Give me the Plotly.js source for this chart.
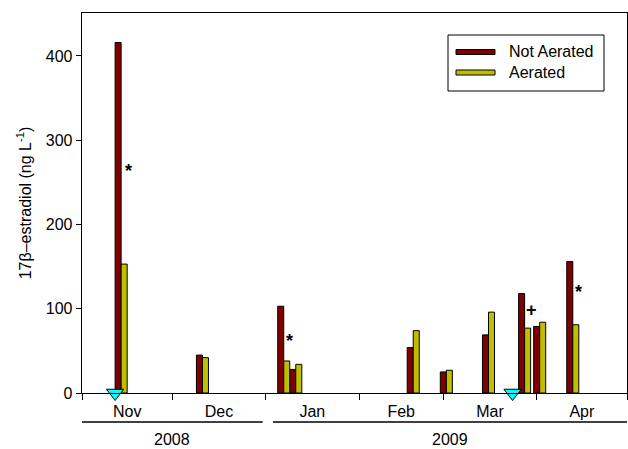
<!DOCTYPE html>
<html>
<head>
<meta charset="utf-8">
<script src="https://cdn.plot.ly/plotly-3.0.1.min.js"></script>
<style>html,body{margin:0;padding:0;background:#fff;}#chart{width:628px;height:449px;}</style>
</head>
<body>
<div id="chart"></div>
<script>
// ---- data ----
const sampleDates = ['2008-11-14','2008-12-11','2009-01-07','2009-01-11','2009-02-19','2009-03-02','2009-03-16','2009-03-28','2009-04-02','2009-04-13'];
const notAerated = [416, 45, 103, 28, 54, 25, 69, 118, 79, 156];
const aerated    = [153, 42, 38, 34, 74, 27, 96, 77, 84, 81];
const eventDates = ['2008-11-12','2009-03-24'];
const eventValues = [0, 0];
const sigMarks = ['*', '*', '+', '*'];
const sigDates = ['2008-11-16 08:00','2009-01-08 20:00','2009-03-30 08:00','2009-04-15 00:00'];
const sigValues = [264, 62, 99, 120];
const seriesNames = ['Not Aerated', 'Aerated'];
const yearLabels = ['2008', '2009'];
const yearStarts = ['2008-11-01', '2009-01-03 10:00'];
const yearEnds = ['2008-12-31', '2009-05-01'];

// ---- layout helpers ----
const W = 628, H = 449;
const M = {l: 82, r: 1, t: 13, b: 56};
const pw = W - M.l - M.r, ph = H - M.t - M.b;
const px = x => (x - M.l) / pw;
const py = y => (H - M.b - y) / ph;

const DAY = 86400000;
const BW = 2 * DAY;
const RED = '#7F0000', YEL = '#BFBF00';
const FONT = 'Liberation Sans, Arial, sans-serif';

const traces = [
  {type: 'bar', x: sampleDates, y: notAerated, name: seriesNames[0], width: BW, offset: -BW,
   marker: {color: RED, line: {color: '#000', width: 1}}, showlegend: false},
  {type: 'bar', x: sampleDates, y: aerated, name: seriesNames[1], width: BW, offset: 0,
   marker: {color: YEL, line: {color: '#000', width: 1}}, showlegend: false},
  {type: 'scatter', mode: 'markers', x: eventDates, y: eventValues, cliponaxis: false,
   marker: {symbol: 'triangle-down', size: 15, color: '#00FFFF', line: {color: '#000', width: 1}},
   showlegend: false, hoverinfo: 'skip'}
];

const annotations = [];
sigMarks.forEach((m, i) => annotations.push({
  x: sigDates[i], y: sigValues[i], xref: 'x', yref: 'y', text: '<b>' + m + '</b>', showarrow: false,
  font: {family: FONT, size: 18, color: '#000000'}, xanchor: 'center', yanchor: 'middle'
}));
yearLabels.forEach((t, i) => {
  const a = new Date(yearStarts[i].replace(' ', 'T') + (yearStarts[i].length > 10 ? 'Z' : 'T00:00Z')).getTime();
  const b = new Date(yearEnds[i].replace(' ', 'T') + (yearEnds[i].length > 10 ? 'Z' : 'T00:00Z')).getTime();
  annotations.push({
    x: new Date((a + b) / 2).toISOString().slice(0, 16).replace('T', ' '), y: py(439),
    xref: 'x', yref: 'paper', text: t, showarrow: false, borderpad: 0,
    font: {family: FONT, size: 16, color: '#000'}, xanchor: 'center', yanchor: 'middle'
  });
});
// legend text
seriesNames.forEach((n, i) => annotations.push({
  x: px(507), y: py(i === 0 ? 52 : 72.5), xref: 'paper', yref: 'paper', text: n, showarrow: false,
  font: {family: FONT, size: 16, color: '#000'}, xanchor: 'left', yanchor: 'middle'
}));

const shapes = [];
yearLabels.forEach((t, i) => shapes.push({
  type: 'line', xref: 'x', yref: 'paper', x0: yearStarts[i], x1: yearEnds[i],
  y0: py(422), y1: py(422), line: {color: '#000', width: 1.3}
}));
// legend box and swatches
shapes.push({type: 'rect', xref: 'paper', yref: 'paper', x0: px(448), x1: px(604), y0: py(91), y1: py(35),
  line: {color: '#000', width: 1}, fillcolor: '#fff'});
[RED, YEL].forEach((c, i) => {
  const yc = i === 0 ? 52 : 72.5;
  shapes.push({type: 'rect', xref: 'paper', yref: 'paper', x0: px(456), x1: px(495),
    y0: py(yc + 2.5), y1: py(yc - 2.5), line: {color: '#000', width: 1}, fillcolor: c});
});

const layout = {
  width: W, height: H, margin: M,
  paper_bgcolor: '#fff', plot_bgcolor: '#fff',
  barmode: 'overlay',
  font: {family: FONT, size: 16, color: '#000'},
  xaxis: {
    type: 'date', range: ['2008-11-01', '2009-05-01'],
    tick0: '2008-11-01', dtick: 'M1', tickformat: '%b', ticklabelmode: 'period',
    ticks: 'outside', ticklen: 6, tickwidth: 1, tickcolor: '#000', ticklabelstandoff: -3,
    showline: true, linecolor: '#000', linewidth: 1.3, mirror: true,
    showgrid: false, zeroline: false, tickfont: {family: FONT, size: 16}
  },
  yaxis: {
    range: [0, 451], tickvals: [0, 100, 200, 300, 400],
    ticks: 'outside', ticklen: 5, tickwidth: 1, tickcolor: '#000',
    showline: true, linecolor: '#000', linewidth: 1.3, mirror: true,
    showgrid: false, zeroline: false, tickfont: {family: FONT, size: 16},
    title: {text: '17\u03B2\u2013estradiol (ng L<sup>-1</sup>)', font: {family: FONT, size: 16}, standoff: 10}
  },
  annotations: annotations,
  shapes: shapes
};

Plotly.newPlot('chart', traces, layout, {displayModeBar: false, staticPlot: true});
</script>
</body>
</html>
